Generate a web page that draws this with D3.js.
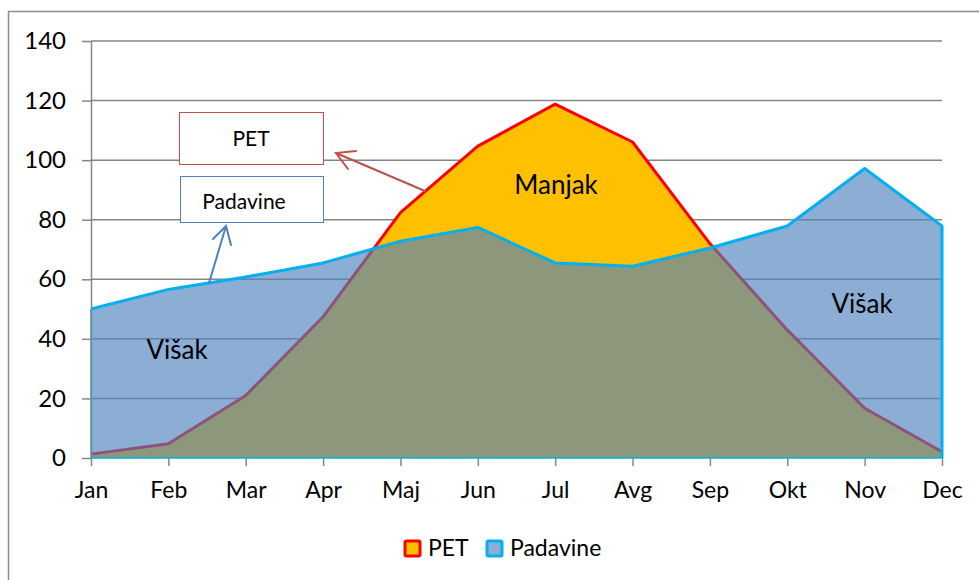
<!DOCTYPE html>
<html>
<head>
<meta charset="utf-8">
<script src="https://cdn.jsdelivr.net/npm/d3@7"></script>
<style>
  body { margin: 0; background: #fff; }
  svg { display: block; font-family: Lato, "Open Sans", sans-serif; }
</style>
</head>
<body>
<div id="chart"></div>
<script>
// Months (Bosnian/Serbian labels)
const months = ["Jan", "Feb", "Mar", "Apr", "Maj", "Jun", "Jul", "Avg", "Sep", "Okt", "Nov", "Dec"];
// Potential evapotranspiration
const pet = [1.3, 4.8, 21, 47.4, 82.4, 104.7, 118.8, 106.1, 72, 43, 16.7, 2.1];
// Precipitation
const padavine = [50, 56.6, 60.8, 65.5, 72.8, 77.4, 65.5, 64.4, 70.5, 77.9, 97.2, 77.9];
const yTicks = [0, 20, 40, 60, 80, 100, 120, 140];

const W = 979, H = 580;
const plot = { left: 91, right: 942, top: 41, bottom: 458 };

const svg = d3.select("#chart").append("svg")
    .attr("width", W)
    .attr("height", H);

// outer chart frame (runs off the picture on the right and bottom)
svg.append("rect")
    .attr("x", 8.5).attr("y", 11.5)
    .attr("width", 1000).attr("height", 620)
    .attr("fill", "none")
    .attr("stroke", "#8c8c8c")
    .attr("stroke-width", 1.5);

const x = d3.scalePoint()
    .domain(months)
    .range([plot.left, plot.right]);

const y = d3.scaleLinear()
    .domain([0, 140])
    .range([plot.bottom, plot.top]);

// horizontal gridlines
svg.append("g")
    .selectAll("line")
    .data(yTicks.filter(d => d > 0))
    .enter()
    .append("line")
    .attr("x1", plot.left).attr("x2", plot.right)
    .attr("y1", d => y(d)).attr("y2", d => y(d))
    .attr("stroke", "#868686")
    .attr("stroke-width", 1.5);

// PET area, drawn first so the precipitation area overlays it
const area = vals => d3.area()
    .x((d, i) => x(months[i]))
    .y0(y(0))
    .y1(d => y(d))(vals);

const line = vals => d3.line()
    .x((d, i) => x(months[i]))
    .y(d => y(d))(vals);

svg.append("path")
    .attr("d", area(pet))
    .attr("fill", "#FFC000");

svg.append("path")
    .attr("d", line(pet))
    .attr("fill", "none")
    .attr("stroke", "#FF0000")
    .attr("stroke-width", 3)
    .attr("stroke-linejoin", "round");

// precipitation area, semi-transparent
svg.append("path")
    .attr("d", area(padavine))
    .attr("fill", "#4F81BD")
    .attr("fill-opacity", 0.65);

// thin outline on the left and bottom edges
svg.append("path")
    .attr("d", `M${x("Jan")},${y(padavine[0])}V${y(0)}H${x("Dec")}`)
    .attr("fill", "none")
    .attr("stroke", "#00B0F0")
    .attr("stroke-width", 1.5);

// thick top line plus the right edge down to zero
svg.append("path")
    .attr("d", line(padavine) + `V${y(0)}`)
    .attr("fill", "none")
    .attr("stroke", "#00B0F0")
    .attr("stroke-width", 3)
    .attr("stroke-linejoin", "round");

// y axis
const yAxis = svg.append("g")
    .attr("transform", `translate(${plot.left},0)`)
    .call(d3.axisLeft(y).tickValues(yTicks).tickSize(9).tickPadding(16).tickSizeOuter(0));
yAxis.select(".domain").attr("stroke", "#868686").attr("stroke-width", 1.5);
yAxis.selectAll(".tick line").attr("stroke", "#868686").attr("stroke-width", 1.5);
yAxis.selectAll(".tick text")
    .attr("font-family", "Lato, sans-serif")
    .attr("font-size", 24)
    .attr("fill", "#000");

// x axis
const xAxis = svg.append("g")
    .attr("transform", `translate(0,${plot.bottom})`)
    .call(d3.axisBottom(x).tickSize(8).tickPadding(16).tickSizeOuter(0));
xAxis.select(".domain").attr("stroke", "none");
xAxis.selectAll(".tick line").attr("stroke", "#868686").attr("stroke-width", 1.5);
xAxis.selectAll(".tick text")
    .attr("font-family", "Lato, sans-serif")
    .attr("font-size", 23)
    .attr("fill", "#000");

// region labels
const labels = [
    { text: "Manjak", x: 556, y: 194 },
    { text: "Višak", x: 177, y: 359 },
    { text: "Višak", x: 862, y: 313 }
];
svg.selectAll(".region-label")
    .data(labels)
    .enter()
    .append("text")
    .attr("class", "region-label")
    .attr("x", d => d.x)
    .attr("y", d => d.y)
    .attr("text-anchor", "middle")
    .attr("font-size", 26)
    .attr("fill", "#000")
    .text(d => d.text);

// callout boxes with arrows
const callouts = [
    { text: "PET", x: 179.5, y: 112.5, w: 144, h: 52, tx: 251, ty: 146, color: "#C0504D",
      from: [425, 191], to: [336, 153], w1: [356, 151], w2: [348, 169] },
    { text: "Padavine", x: 180.5, y: 176.5, w: 143, h: 46, tx: 244, ty: 209, color: "#4F81BD",
      from: [209, 283], to: [226, 226], w1: [213, 239], w2: [231, 245] }
];
callouts.forEach(c => {
    svg.append("rect")
        .attr("x", c.x).attr("y", c.y)
        .attr("width", c.w).attr("height", c.h)
        .attr("fill", "#fff")
        .attr("stroke", c.color)
        .attr("stroke-width", 1);
    svg.append("text")
        .attr("x", c.tx)
        .attr("y", c.ty)
        .attr("text-anchor", "middle")
        .attr("font-size", 21)
        .attr("fill", "#000")
        .text(c.text);
    svg.append("path")
        .attr("d", `M${c.from}L${c.to}M${c.w1}L${c.to}L${c.w2}`)
        .attr("fill", "none")
        .attr("stroke", c.color)
        .attr("stroke-width", 2)
        .attr("stroke-linecap", "round");
});

// legend
const legend = [
    { name: "PET", fill: "#FFC000", opacity: 1, stroke: "#FF0000", x: 405 },
    { name: "Padavine", fill: "#4F81BD", opacity: 0.65, stroke: "#00B0F0", x: 487 }
];
const lg = svg.selectAll(".legend")
    .data(legend)
    .enter()
    .append("g")
    .attr("class", "legend")
    .attr("transform", d => `translate(${d.x},541)`);
lg.append("rect")
    .attr("width", 15).attr("height", 15)
    .attr("rx", 1.5)
    .attr("fill", d => d.fill)
    .attr("fill-opacity", d => d.opacity)
    .attr("stroke", d => d.stroke)
    .attr("stroke-width", 3);
lg.append("text")
    .attr("x", 23)
    .attr("y", 15)
    .attr("font-size", 23)
    .attr("fill", "#000")
    .text(d => d.name);
</script>
</body>
</html>
